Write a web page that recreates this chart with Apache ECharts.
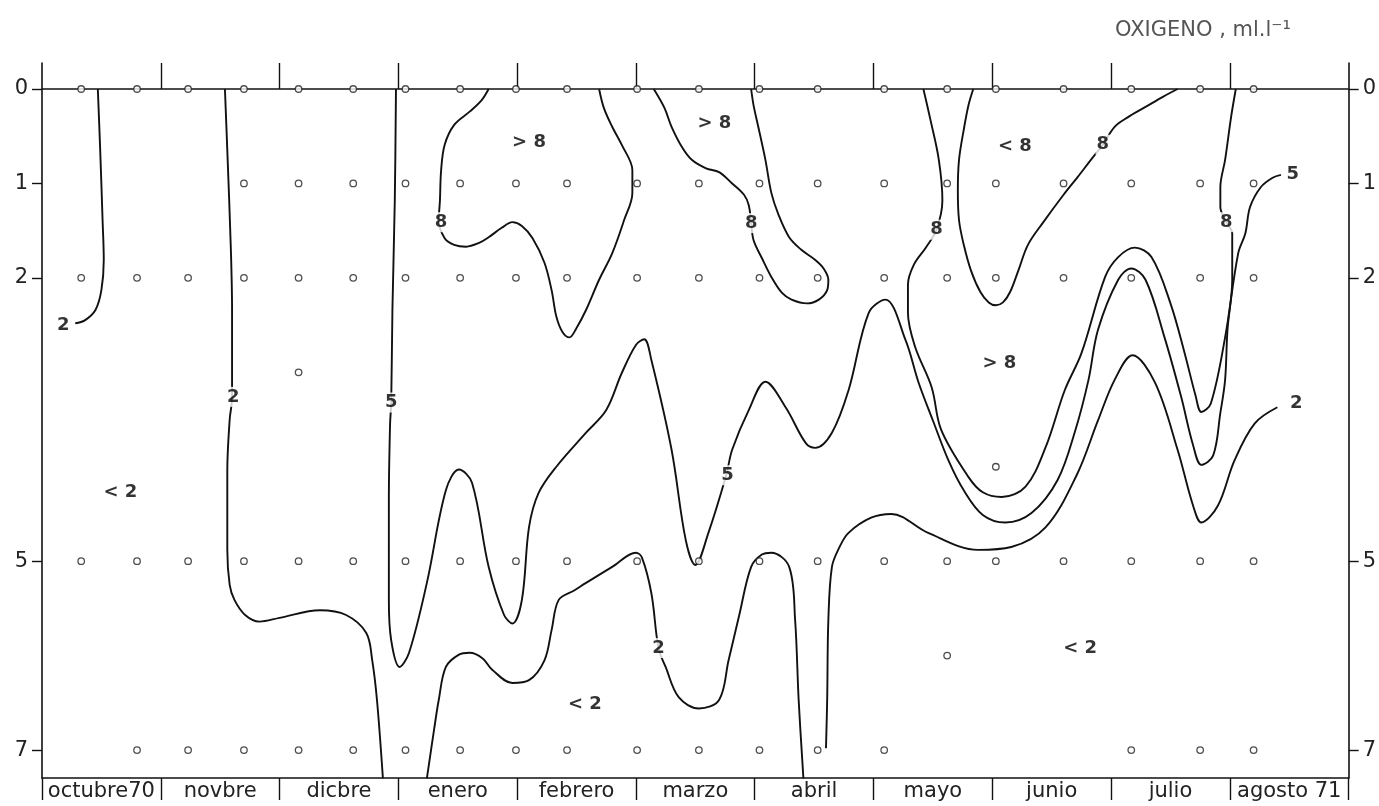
<!DOCTYPE html>
<html>
<head>
<meta charset="utf-8">
<script src="https://cdn.jsdelivr.net/npm/echarts@6/dist/echarts.min.js"></script>
<style>
html,body{margin:0;padding:0;background:#fff;}
#chart{width:1379px;height:806px;}
</style>
</head>
<body>
<div id="chart"></div>
<script>
// ---- DATA (x = months since 1 Oct 1970, y = depth) ----
const months = ['octubre70','novbre','dicbre','enero','febrero','marzo','abril','mayo','junio','julio','agosto 71'];
const depthTicks = [0, 1, 2, 5, 7];
const stationMonths = [0.33,0.80,1.23,1.70,2.16,2.62,3.06,3.52,3.99,4.42,5.01,5.53,6.04,6.53,7.09,7.62,8.03,8.60,9.17,9.75,10.20];
const stationDepths = [
  [0,2,5],[0,2,5,7],[0,2,5,7],[0,1,2,5,7],[0,1,2,3,5,7],[0,1,2,5,7],[0,1,2,5,7],
  [0,1,2,5,7],[0,1,2,5,7],[0,1,2,5,7],[0,1,2,5,7],[0,1,2,5,7],[0,1,2,5,7],[0,1,2,5,7],
  [0,1,2,5,7],[0,1,2,5,6],[0,1,2,4,5],[0,1,2,5],[0,1,2,5,7],[0,1,2,5,7],[0,1,2,5,7]
];
const surface = [[0,0],[11,0]];

const iso2Oct = [[0.47,0],[0.49,0.65],[0.51,1.39],[0.52,1.81],[0.50,2.13],[0.45,2.34],[0.36,2.45],[0.28,2.48]];
const iso2Nov = [[1.54,0],[1.56,0.65],[1.59,1.70],[1.60,2.34],[1.60,3.27],[1.58,3.50],[1.56,4.04],[1.56,4.88],[1.58,5.25],[1.62,5.41],[1.71,5.57],[1.83,5.64],[2.00,5.60],[2.34,5.52],[2.56,5.57],[2.73,5.76],[2.78,6.05],[2.82,6.47],[2.87,7.30]];
const iso5 = [[2.98,0],[2.97,1.18],[2.95,2.34],[2.94,3.31],[2.93,3.56],[2.92,4.35],[2.92,5.41],[2.94,5.84],[3.01,6.12],[3.09,5.97],[3.24,5.23],[3.40,4.25],[3.51,4.03],[3.62,4.17],[3.76,5.06],[3.89,5.57],[3.96,5.66],[4.04,5.41],[4.10,4.64],[4.18,4.28],[4.33,4.00],[4.58,3.64],[4.75,3.40],[4.88,3.01],[5.00,2.71],[5.07,2.65],[5.13,2.87],[5.30,3.82],[5.42,4.78],[5.50,5.04],[5.61,4.70],[5.76,4.09],[5.81,3.82],[5.95,3.40],[6.09,3.10],[6.26,3.37],[6.43,3.75],[6.51,3.80],[6.65,3.64],[6.79,3.19],[6.96,2.37],[7.10,2.23],[7.27,2.66],[7.38,3.11],[7.50,3.51],[7.63,3.93],[7.76,4.25],[7.92,4.51],[8.11,4.59],[8.33,4.49],[8.55,4.14],[8.70,3.61],[8.81,3.08],[8.89,2.55],[9.06,2.02],[9.17,1.90],[9.29,2.02],[9.45,2.63],[9.59,3.26],[9.69,3.77],[9.76,3.98],[9.86,3.88],[9.92,3.43],[9.96,3.08],[9.98,2.55],[10.02,2.02],[10.02,1.53],[9.97,1.41],[9.92,1.25],[9.92,1.04],[9.96,0.75],[10.01,0.30],[10.05,0]];
const iso8Jan = [[3.76,0],[3.70,0.12],[3.60,0.24],[3.47,0.38],[3.39,0.59],[3.36,0.86],[3.35,1.18],[3.34,1.39],[3.39,1.58],[3.47,1.65],[3.57,1.67],[3.68,1.63],[3.76,1.57],[3.87,1.47],[3.96,1.41],[4.04,1.45],[4.13,1.58],[4.23,1.84],[4.29,2.13],[4.33,2.41],[4.38,2.57],[4.44,2.63],[4.50,2.53],[4.58,2.34],[4.69,2.02],[4.80,1.74],[4.90,1.39],[4.97,1.10],[4.97,0.86],[4.88,0.59],[4.80,0.40],[4.73,0.20],[4.69,0]];
const iso8Mar = [[5.15,0],[5.24,0.20],[5.30,0.40],[5.39,0.62],[5.47,0.75],[5.59,0.84],[5.70,0.88],[5.81,1.00],[5.91,1.12],[5.95,1.23],[5.97,1.41],[5.99,1.60],[6.06,1.79],[6.14,1.99],[6.23,2.16],[6.31,2.23],[6.44,2.27],[6.54,2.23],[6.61,2.13],[6.62,2.02],[6.58,1.90],[6.51,1.81],[6.39,1.70],[6.29,1.57],[6.20,1.33],[6.14,1.10],[6.09,0.75],[6.03,0.40],[5.99,0.17],[5.97,0]];
const iso8May = [[7.42,0],[7.48,0.33],[7.55,0.75],[7.58,1.18],[7.53,1.49],[7.44,1.68],[7.34,1.86],[7.29,2.07],[7.29,2.37],[7.35,2.73],[7.49,3.16],[7.57,3.61],[7.80,4.11],[7.92,4.27],[8.08,4.32],[8.28,4.21],[8.45,3.79],[8.61,3.19],[8.75,2.80],[8.95,1.99],[9.06,1.78],[9.20,1.68],[9.34,1.78],[9.50,2.27],[9.62,2.80],[9.71,3.24],[9.76,3.42],[9.84,3.33],[9.96,2.63],[10.07,1.74],[10.13,1.53],[10.17,1.25],[10.26,1.04],[10.36,0.94],[10.43,0.91]];
const iso8Bubble = [[7.84,0],[7.80,0.17],[7.76,0.43],[7.72,0.75],[7.71,1.07],[7.72,1.39],[7.76,1.65],[7.82,1.92],[7.90,2.15],[7.97,2.26],[8.03,2.29],[8.09,2.26],[8.15,2.15],[8.22,1.92],[8.30,1.65],[8.43,1.41],[8.60,1.12],[8.72,0.93],[8.83,0.75],[8.93,0.59],[9.03,0.40],[9.14,0.30],[9.29,0.19],[9.44,0.08],[9.56,0]];
const iso2Feb = [[3.24,7.30],[3.30,6.79],[3.34,6.47],[3.40,6.12],[3.51,5.99],[3.60,5.97],[3.71,6.03],[3.79,6.15],[3.96,6.29],[4.10,6.26],[4.23,6.05],[4.29,5.73],[4.35,5.41],[4.48,5.31],[4.58,5.23],[4.80,5.06],[5.00,4.91],[5.05,4.96],[5.13,5.34],[5.19,5.92],[5.25,6.12],[5.36,6.44],[5.53,6.56],[5.70,6.47],[5.78,6.05],[5.87,5.57],[5.97,5.06],[6.06,4.93],[6.14,4.91],[6.29,5.06],[6.34,5.62],[6.37,6.47],[6.41,7.30]];
const iso2May = [[6.60,6.98],[6.61,6.47],[6.62,5.62],[6.65,5.06],[6.71,4.86],[6.79,4.70],[6.98,4.54],[7.15,4.50],[7.46,4.70],[7.88,4.88],[8.16,4.85],[8.45,4.64],[8.71,4.09],[8.89,3.51],[9.03,3.08],[9.18,2.82],[9.37,3.11],[9.56,3.82],[9.69,4.41],[9.76,4.59],[9.90,4.41],[10.04,3.93],[10.21,3.54],[10.40,3.37]];

const lineLabels = [[0.18,2.50,'2'],[1.61,3.26,'2'],[2.94,3.32,'5'],[3.36,1.41,'8'],[5.97,1.42,'8'],[5.77,4.09,'5'],[5.19,5.92,'2'],[7.53,1.49,'8'],[8.93,0.59,'8'],[9.97,1.41,'8'],[10.53,0.90,'5'],[10.56,3.33,'2']];
const regionLabels = [[4.10,0.56,'> 8'],[5.66,0.36,'> 8'],[8.19,0.61,'< 8'],[8.06,2.90,'> 8'],[0.66,4.27,'< 2'],[4.57,6.52,'< 2'],[8.74,5.92,'< 2']];

// ---- CHART ----
const isolines = [iso2Oct, iso2Nov, iso5, iso8Jan, iso8Mar, iso8May, iso8Bubble, iso2Feb, iso2May];
const stationPoints = [];
stationMonths.forEach((m, i) => stationDepths[i].forEach(d => stationPoints.push([m, d])));

const INK = '#111';
const FONT = 'DejaVu Sans';
const yMin = -0.2753, yMax = 7.296;

function yAxisDef(pos) {
  return {
    type: 'value', position: pos, inverse: true, min: yMin, max: yMax,
    axisLine: { show: true, onZero: false, lineStyle: { color: INK, width: 1.6 } },
    axisTick: { show: true, customValues: depthTicks, length: 10, lineStyle: { color: INK, width: 1.4 } },
    axisLabel: { show: true, customValues: depthTicks, margin: 14, fontSize: 21, fontFamily: FONT, color: '#222' },
    splitLine: { show: false }
  };
}

const series = [];
series.push({ type: 'line', data: surface, symbol: 'none', silent: true, z: 2,
  lineStyle: { color: INK, width: 1.6 } });
isolines.forEach(arr => series.push({
  type: 'line', data: arr, symbol: 'none', smooth: 0.35, silent: true, z: 3,
  lineStyle: { color: INK, width: 1.9 }
}));
series.push({ type: 'scatter', data: stationPoints, symbol: 'circle', symbolSize: 6.5, z: 4, silent: true,
  itemStyle: { color: '#fff', borderColor: '#222', borderWidth: 1.3 } });
series.push({ type: 'scatter', data: lineLabels, symbolSize: 0, z: 6, silent: true,
  itemStyle: { color: INK },
  label: { show: true, position: 'inside', formatter: p => p.data[2], fontSize: 18, fontWeight: 'bold',
    fontFamily: FONT, color: '#000', backgroundColor: '#fff', padding: [1, 1] } });
series.push({ type: 'scatter', data: regionLabels, symbolSize: 0, z: 6, silent: true,
  itemStyle: { color: INK },
  label: { show: true, position: 'inside', formatter: p => p.data[2], fontSize: 18, fontWeight: 'bold',
    fontFamily: FONT, color: '#000' } });

const chart = echarts.init(document.getElementById('chart'), null, { renderer: 'canvas' });
chart.setOption({
  animation: false,
  backgroundColor: '#fff',
  title: { text: 'OXIGENO , ml.l⁻¹', left: 1110, top: 15,
    textStyle: { fontSize: 21, fontWeight: 'normal', fontFamily: FONT, color: '#555' } },
  grid: { left: 42, right: 28, top: 63, bottom: 28 },
  xAxis: [
    { type: 'value', position: 'bottom', min: 0, max: 11,
      axisLine: { show: true, onZero: false, lineStyle: { color: INK, width: 1.6 } },
      axisTick: { show: true, customValues: [0,1,2,3,4,5,6,7,8,9,10,11], length: 22, lineStyle: { color: INK, width: 1.4 } },
      axisLabel: { show: true, customValues: [0.5,1.5,2.5,3.5,4.5,5.5,6.5,7.5,8.5,9.5,10.5], margin: 3,
        formatter: v => months[Math.floor(v)], fontSize: 21, fontFamily: FONT, color: '#222' },
      splitLine: { show: false } },
    { type: 'value', position: 'top', min: 0, max: 11,
      axisLine: { show: false, onZero: false },
      axisTick: { show: true, inside: true, customValues: [1,2,3,4,5,6,7,8,9,10], length: 26, lineStyle: { color: INK, width: 1.4 } },
      axisLabel: { show: false }, splitLine: { show: false } }
  ],
  yAxis: [yAxisDef('left'), yAxisDef('right')],
  series: series
});
</script>
</body>
</html>
